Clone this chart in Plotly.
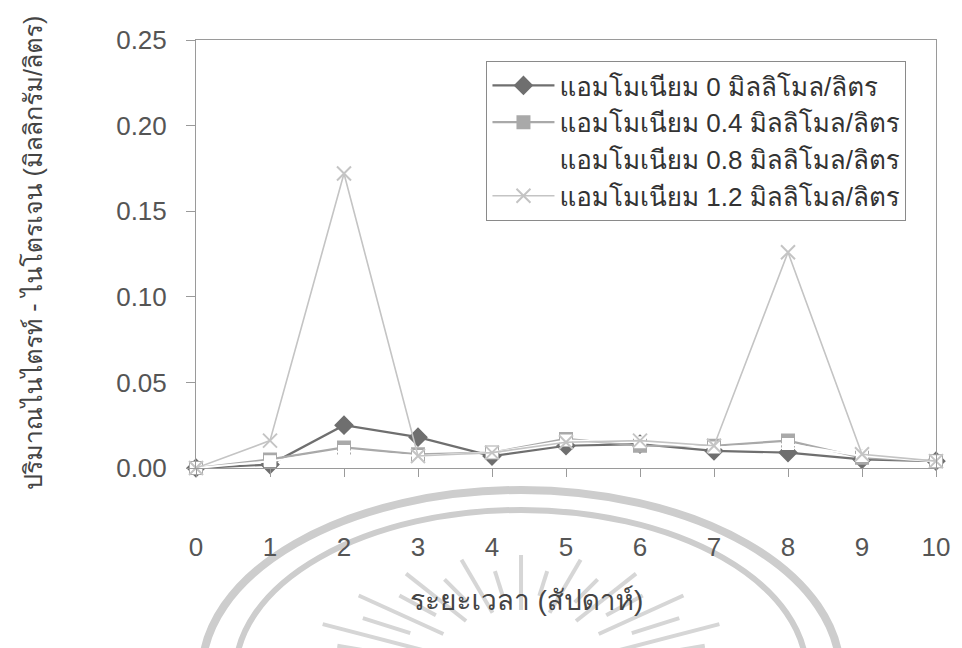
import math
import plotly.graph_objects as go

weeks = [0, 1, 2, 3, 4, 5, 6, 7, 8, 9, 10]
names = [
    "แอมโมเนียม 0 มิลลิโมล/ลิตร",
    "แอมโมเนียม 0.4 มิลลิโมล/ลิตร",
    "แอมโมเนียม 0.8 มิลลิโมล/ลิตร",
    "แอมโมเนียม 1.2 มิลลิโมล/ลิตร",
]
nh4_0 = [0.000, 0.002, 0.025, 0.018, 0.007, 0.013, 0.014, 0.010, 0.009, 0.005, 0.004]
nh4_04 = [0.000, 0.005, 0.012, 0.008, 0.009, 0.017, 0.013, 0.013, 0.016, 0.006, 0.004]
nh4_08 = [0.000, 0.004, 0.010, 0.007, 0.009, 0.016, 0.015, 0.012, 0.014, 0.007, 0.004]
nh4_12 = [0.000, 0.016, 0.172, 0.007, 0.009, 0.015, 0.016, 0.013, 0.126, 0.008, 0.004]
y_ticks = [0.00, 0.05, 0.10, 0.15, 0.20, 0.25]
y_ticklabels = ["0.00", "0.05", "0.10", "0.15", "0.20", "0.25"]
x_title = "ระยะเวลา (สัปดาห์)"
y_title = "ปริมาณไนไตรท์ - ไนโตรเจน (มิลลิกรัม/ลิตร)"

FONT = ("Arial, Liberation Sans, Loma, Waree, Garuda, Norasi, "
        "Noto Sans Thai Looped, Noto Sans Thai, sans-serif")

# page geometry (body margin removed by post_script)
OFF = 0
ML, MT = 196, 40
PW, PH = 749, 428
FIG_W, FIG_H = 962, 648


def px(x):
    return (x - OFF - ML) / PW


def py(y):
    return (OFF + MT + PH - y) / PH


styles = [
    dict(color="#6f6f6f", width=2.2, symbol="diamond", size=13),
    dict(color="#a9a9a9", width=2.2, symbol="square", size=12),
    dict(color="#ffffff", width=2.0, symbol="square", size=10),
    dict(color="#c4c4c4", width=1.6, symbol="x-thin", size=14),
]
series = [nh4_0, nh4_04, nh4_08, nh4_12]

fig = go.Figure()
for name, vals, st in zip(names, series, styles):
    fig.add_trace(go.Scatter(
        x=weeks, y=vals, name=name, mode="lines+markers",
        line=dict(color=st["color"], width=st["width"]),
        marker=dict(symbol=st["symbol"], size=st["size"], color=st["color"],
                    line=dict(color=st["color"], width=2)),
        cliponaxis=False,
    ))

# faint scanned watermark (decoration)
shapes = []
for cx, cy, a, b, w in [(525, 673, 323, 183, 8), (525, 673, 289, 163, 6)]:
    shapes.append(dict(type="circle", xref="paper", yref="paper",
                       x0=px(cx - a), x1=px(cx + a), y0=py(cy + b), y1=py(cy - b),
                       line=dict(color="#cdcdcd", width=w), layer="below"))
rcx, rcy = 525, 690
n_rays = 21
for i in range(n_rays):
    ang = math.radians(14 + i * (152 / (n_rays - 1)))
    long_ray = i % 2 == 0
    r_in_x, r_in_y = (110, 80) if long_ray else (140, 95)
    r_out_x, r_out_y = (230, 135) if long_ray else (200, 120)
    x0 = rcx + r_in_x * math.cos(ang)
    y0 = rcy - r_in_y * math.sin(ang)
    x1 = rcx + r_out_x * math.cos(ang)
    y1 = rcy - r_out_y * math.sin(ang)
    shapes.append(dict(type="line", xref="paper", yref="paper",
                       x0=px(x0), y0=py(y0), x1=px(x1), y1=py(y1),
                       line=dict(color="#d6d6d6", width=4), layer="below"))

fig.update_layout(
    width=FIG_W, height=FIG_H,
    margin=dict(l=ML, r=FIG_W - ML - PW, t=MT, b=FIG_H - MT - PH),
    paper_bgcolor="white", plot_bgcolor="rgba(0,0,0,0)",
    font=dict(family=FONT, size=22, color="#4a4a4a"),
    showlegend=True,
    shapes=shapes,
    legend=dict(
        x=px(490), y=py(61), xanchor="left", yanchor="top",
        bordercolor="#8a8a8a", borderwidth=1, bgcolor="white",
        font=dict(family=FONT, size=26, color="#333333"),
        tracegroupgap=0, itemwidth=62,
    ),
    xaxis=dict(
        range=[0, 10], tickvals=weeks, ticktext=[str(w) for w in weeks],
        showline=True, linecolor="#9a9a9a", linewidth=1, mirror=True,
        ticks="outside", ticklen=8, tickcolor="#9a9a9a",
        ticklabelstandoff=48, ticklabeloverflow="allow",
        showgrid=False, zeroline=False,
        tickfont=dict(size=26, color="#555555"),
    ),
    yaxis=dict(
        range=[0, 0.25], tickvals=y_ticks, ticktext=y_ticklabels,
        showline=True, linecolor="#9a9a9a", linewidth=1, mirror=True,
        ticks="outside", ticklen=9, tickcolor="#9a9a9a",
        ticklabelstandoff=14, showgrid=False, zeroline=False,
        tickfont=dict(size=26, color="#555555"),
    ),
    annotations=[
        dict(text=x_title, xref="paper", yref="paper", x=px(531), y=py(600),
             xanchor="center", yanchor="middle",
             showarrow=False, font=dict(size=28, color="#444444")),
        dict(text=y_title, xref="paper", yref="paper", x=px(31), y=py(253),
             xanchor="center", yanchor="middle",
             showarrow=False, textangle=-90, font=dict(size=25, color="#444444")),
    ],
)

fig.write_html(
    "out.html",
    config={"displayModeBar": False},
    post_script="document.body.style.margin='0px';document.body.style.overflow='hidden';",
)
